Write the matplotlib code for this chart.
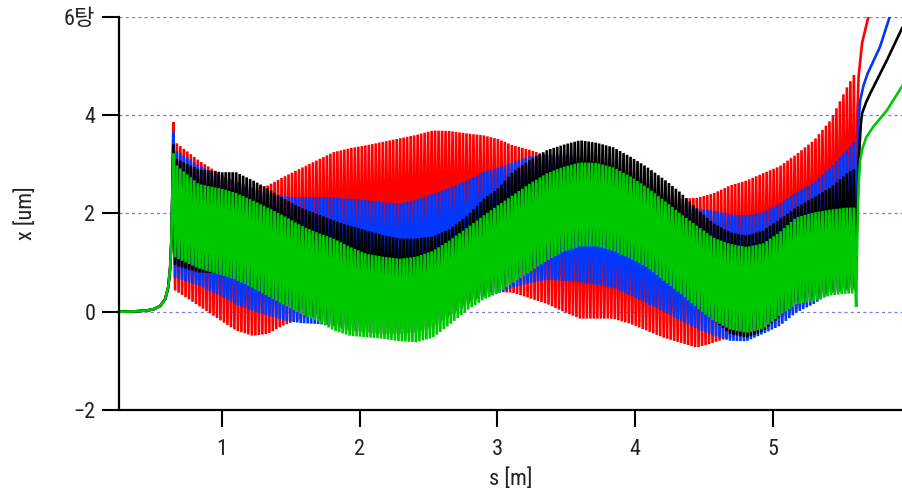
import numpy as np
import matplotlib
matplotlib.use("Agg")
import matplotlib.pyplot as plt
from matplotlib import font_manager

# envelope knots along the beamline [m]
s_knots = [0.645, 0.66, 0.83, 1.0, 1.1, 1.22, 1.33, 1.45, 1.57, 1.7, 1.81, 1.93, 2.05, 2.17,
           2.29, 2.41, 2.53, 2.65, 2.78, 2.9, 3.0, 3.11, 3.23, 3.36, 3.48, 3.6, 3.72, 3.84,
           3.97, 4.09, 4.21, 4.33, 4.45, 4.57, 4.69, 4.81, 4.93, 5.05, 5.17, 5.3, 5.42, 5.54, 5.603]

red_hi = [3.86, 3.45, 3.08, 2.78, 2.65, 2.52, 2.57, 2.75, 2.92, 3.1, 3.25, 3.33, 3.39, 3.46,
          3.53, 3.6, 3.69, 3.68, 3.63, 3.59, 3.52, 3.39, 3.3, 3.18, 3.1, 3.0, 2.9, 2.8,
          2.65, 2.5, 2.38, 2.3, 2.32, 2.41, 2.57, 2.67, 2.82, 2.96, 3.2, 3.49, 3.9, 4.57, 4.88]
red_lo = [0.45, 0.43, 0.12, -0.2, -0.38, -0.49, -0.45, -0.27, -0.15, -0.05, 0.0, 0.05, 0.08, 0.1,
          0.15, 0.2, 0.25, 0.3, 0.35, 0.38, 0.4, 0.39, 0.28, 0.16, 0.0, -0.14, -0.14, -0.14,
          -0.25, -0.39, -0.53, -0.63, -0.73, -0.63, -0.52, -0.42, -0.3, -0.15, 0.05, 0.25, 0.38, 0.45, 0.5]

blue_hi = [3.65, 3.29, 2.98, 2.75, 2.65, 2.5, 2.4, 2.35, 2.33, 2.33, 2.33, 2.3, 2.27, 2.23,
           2.2, 2.28, 2.4, 2.52, 2.67, 2.85, 2.92, 3.04, 3.16, 3.2, 3.2, 3.15, 3.0, 2.85,
           2.65, 2.45, 2.3, 2.18, 2.1, 2.06, 1.98, 1.96, 2.02, 2.2, 2.42, 2.63, 2.94, 3.29, 3.49]
blue_lo = [0.75, 0.69, 0.53, 0.3, 0.15, 0.02, -0.08, -0.18, -0.23, -0.25, -0.28, -0.27, -0.22, -0.15,
           -0.08, 0.0, 0.08, 0.15, 0.22, 0.3, 0.37, 0.49, 0.58, 0.65, 0.63, 0.6, 0.55, 0.49,
           0.33, 0.16, 0.0, -0.18, -0.35, -0.49, -0.59, -0.6, -0.45, -0.29, -0.02, 0.16, 0.38, 0.43, 0.45]

black_hi = [3.41, 3.12, 2.9, 2.84, 2.84, 2.68, 2.51, 2.3, 2.12, 1.98, 1.86, 1.75, 1.65, 1.56,
            1.49, 1.49, 1.53, 1.68, 1.95, 2.3, 2.5, 2.84, 3.08, 3.29, 3.4, 3.49, 3.44, 3.35,
            3.15, 2.94, 2.7, 2.43, 2.1, 1.8, 1.62, 1.55, 1.65, 1.88, 2.12, 2.33, 2.53, 2.82, 2.92]
black_lo = [1.0, 0.94, 0.8, 0.78, 0.68, 0.52, 0.36, 0.18, 0.0, -0.15, -0.3, -0.38, -0.42, -0.45,
            -0.45, -0.42, -0.3, -0.1, 0.15, 0.35, 0.5, 0.7, 0.9, 1.1, 1.28, 1.4, 1.4, 1.3,
            1.12, 0.95, 0.67, 0.4, 0.1, -0.17, -0.45, -0.53, -0.4, -0.1, 0.2, 0.33, 0.43, 0.48, 0.5]

green_hi = [3.22, 3.0, 2.6, 2.5, 2.42, 2.27, 2.12, 1.95, 1.76, 1.6, 1.49, 1.32, 1.18, 1.12,
            1.08, 1.12, 1.24, 1.45, 1.71, 1.96, 2.16, 2.37, 2.6, 2.82, 2.95, 3.04, 3.03, 2.94,
            2.75, 2.53, 2.27, 2.0, 1.75, 1.51, 1.38, 1.32, 1.39, 1.62, 1.92, 2.02, 2.08, 2.12, 2.12]
green_lo = [1.15, 1.1, 0.88, 0.74, 0.65, 0.49, 0.32, 0.14, -0.04, -0.2, -0.38, -0.49, -0.52, -0.55,
            -0.6, -0.62, -0.53, -0.27, 0.03, 0.25, 0.37, 0.58, 0.8, 1.04, 1.22, 1.33, 1.33, 1.24,
            1.08, 0.9, 0.63, 0.37, 0.08, -0.18, -0.36, -0.43, -0.35, -0.08, 0.15, 0.22, 0.33, 0.37, 0.37]

# common injection ramp before the first turn
s_ramp = [0.25, 0.35, 0.45, 0.5, 0.55, 0.586, 0.608, 0.622, 0.63, 0.637]
x_ramp = [0.0, 0.005, 0.025, 0.05, 0.12, 0.26, 0.5, 0.9, 1.4, 2.3]

# extraction tails after the last turn
red_tail_s = [5.608, 5.615, 5.625, 5.65, 5.695, 5.75]
red_tail_x = [2.5, 4.0, 4.8, 5.47, 6.0, 6.8]
blue_tail_s = [5.61, 5.622, 5.636, 5.66, 5.69, 5.78, 5.85, 5.95]
blue_tail_x = [2.0, 3.8, 4.3, 4.6, 4.85, 5.39, 6.0, 6.6]
black_tail_s = [5.61, 5.625, 5.64, 5.65, 5.68, 5.71, 5.83, 5.94, 5.98]
black_tail_x = [1.5, 3.0, 3.8, 4.04, 4.27, 4.45, 5.12, 5.77, 5.95]
green_tail_s = [5.607, 5.615, 5.625, 5.636, 5.65, 5.68, 5.73, 5.83, 5.94, 5.98]
green_tail_x = [0.1, 1.5, 2.6, 3.08, 3.3, 3.55, 3.76, 4.1, 4.59, 4.75]

n_half = 391  # half periods between first and last turn


def track(hi, lo, tail_s, tail_x):
    s = np.linspace(s_knots[0], s_knots[-1], n_half + 1)
    up = np.interp(s, s_knots, hi)
    dn = np.interp(s, s_knots, lo)
    x = np.where(np.arange(s.size) % 2 == 0, up, dn)
    return (np.concatenate([s_ramp, s, tail_s]),
            np.concatenate([x_ramp, x, tail_x]))


names = sorted({f.name for f in font_manager.fontManager.ttflist})
narrow = [n for n in ['Liberation Sans Narrow', 'Roboto Condensed', 'Open Sans Condensed',
                      'DejaVu Sans Condensed'] if n in names]
narrow += [n for n in names if ('Narrow' in n or 'Condensed' in n) and n not in narrow]
base = narrow[0] if narrow else 'DejaVu Sans'
plt.rcParams['font.family'] = [base, 'Noto Sans CJK KR']
plt.rcParams['font.stretch'] = 'condensed'
plt.rcParams['axes.unicode_minus'] = True

fig = plt.figure(figsize=(9.02, 4.94), dpi=100)
ax = fig.add_axes([119 / 902, 84 / 494, 783 / 902, 393 / 494])

series = [(red_hi, red_lo, red_tail_s, red_tail_x, '#ff0000'),
          (blue_hi, blue_lo, blue_tail_s, blue_tail_x, '#0037ff'),
          (black_hi, black_lo, black_tail_s, black_tail_x, '#000000'),
          (green_hi, green_lo, green_tail_s, green_tail_x, '#00c800')]
for hi, lo, ts, tx, c in series:
    s, x = track(hi, lo, ts, tx)
    ax.plot(s, x, color=c, lw=1.9, solid_joinstyle='miter')

ax.set_xlim(0.25, 5.94)
ax.set_ylim(-2, 6)
for y in [0, 2, 4, 6]:
    ax.axhline(y, color='#7b7be6', lw=0.9, ls=(0, (2.5, 2.5)), zorder=0)

ax.spines['top'].set_visible(False)
ax.spines['right'].set_visible(False)
ax.spines['left'].set_linewidth(1.6)
ax.spines['bottom'].set_linewidth(1.6)
ax.set_xticks([1, 2, 3, 4, 5])
ax.set_yticks([-2, 0, 2, 4, 6])
ax.set_yticklabels(['\u22122', '0', '2', '4', '6탕'])
ax.tick_params(axis='both', direction='out', length=12, width=1.5, labelsize=16,
               colors='black', labelcolor='#222222')
ax.tick_params(axis='x', pad=9)
ax.tick_params(axis='y', pad=5)
ax.set_xlabel('s [m]', fontsize=16, color='#222222')
ax.set_ylabel('x [um]', fontsize=16, color='#222222')
ax.xaxis.set_label_coords(0.5, -0.148)
ax.yaxis.set_label_coords(-0.105, 0.5)

fig.savefig('out.png', dpi=100)
